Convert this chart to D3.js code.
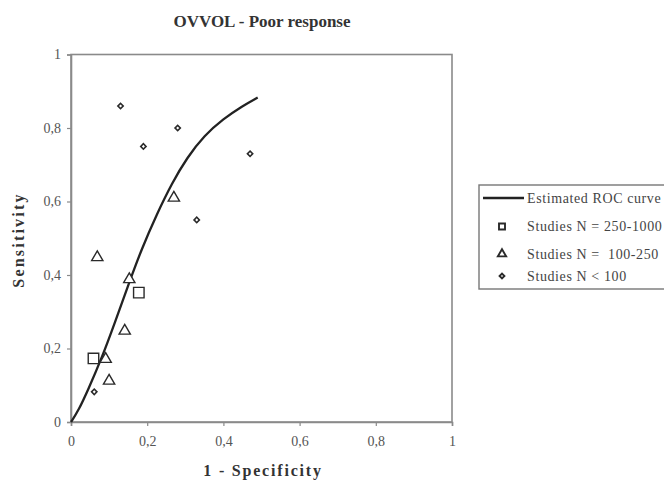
<!DOCTYPE html>
<html>
<head>
<meta charset="utf-8">
<script src="https://cdn.jsdelivr.net/npm/d3@7"></script>
<style>
  html, body { margin: 0; padding: 0; background: #fff; }
  svg { display: block; }
</style>
</head>
<body>
<svg id="chart" width="664" height="486"></svg>
<script>
// Summary ROC curve (1 - specificity, sensitivity)
const rocCurve = [
  [0, 0], [0.02, 0.032], [0.045, 0.088], [0.08, 0.172], [0.115, 0.27],
  [0.15, 0.372], [0.185, 0.47], [0.225, 0.565], [0.265, 0.65],
  [0.305, 0.72], [0.35, 0.78], [0.40, 0.825], [0.45, 0.86], [0.49, 0.883]
];
// Individual studies grouped by sample size
const studiesLarge = [[0.059, 0.173], [0.178, 0.352]];
const studiesMedium = [[0.069, 0.448], [0.153, 0.388], [0.141, 0.248], [0.091, 0.171], [0.10, 0.112], [0.27, 0.61]];
const studiesSmall = [[0.13, 0.86], [0.19, 0.75], [0.28, 0.80], [0.47, 0.73], [0.33, 0.55], [0.061, 0.082]];
const tickValues = [0, 0.2, 0.4, 0.6, 0.8, 1];
const legendLabels = ["Estimated ROC curve", "Studies N = 250-1000", "Studies N =  100-250", "Studies N < 100"];

const svg = d3.select("#chart");
const serif = "'Liberation Serif', 'Times New Roman', serif";
const ink = "#2a2a2a";

const x = d3.scaleLinear().domain([0, 1]).range([71, 452]);
const y = d3.scaleLinear().domain([0, 1]).range([422, 54.5]);
const fmt = d => d === 0 || d === 1 ? String(d) : d3.format(".1f")(d).replace(".", ",");

// Plot frame
svg.append("rect")
  .attr("x", x(0)).attr("y", y(1))
  .attr("width", x(1) - x(0)).attr("height", y(0) - y(1))
  .attr("fill", "#fff").attr("stroke", "#8a8a8a").attr("stroke-width", 1.6);

// Axes
const xAxis = svg.append("g").attr("transform", `translate(0,${y(0)})`)
  .call(d3.axisBottom(x).tickValues(tickValues).tickFormat(fmt).tickSize(4).tickPadding(10));
const yAxis = svg.append("g").attr("transform", `translate(${x(0)},0)`)
  .call(d3.axisLeft(y).tickValues(tickValues).tickFormat(fmt).tickSize(4).tickPadding(6));
[xAxis, yAxis].forEach(g => {
  g.select(".domain").attr("stroke", "#8a8a8a").attr("stroke-width", 1.6);
  g.selectAll(".tick line").attr("stroke", "#8a8a8a").attr("stroke-width", 1.2);
  g.selectAll(".tick text").attr("fill", "#555").attr("font-family", serif).attr("font-size", 14);
});

// Curve
const line = d3.line().x(d => x(d[0])).y(d => y(d[1])).curve(d3.curveBasis);
svg.append("path").datum(rocCurve)
  .attr("d", line).attr("fill", "none")
  .attr("stroke", "#222").attr("stroke-width", 2.3);

// Markers
const sym = (type, size) => d3.symbol().type(type).size(size)();
function drawPoints(data, type, size, sw, rot) {
  svg.append("g").selectAll("path").data(data).join("path")
    .attr("transform", d => `translate(${x(d[0])},${y(d[1])}) rotate(${rot || 0})`)
    .attr("d", sym(type, size))
    .attr("fill", "#fff").attr("stroke", ink).attr("stroke-width", sw);
}
drawPoints(studiesLarge, d3.symbolSquare, 110, 1.4);
drawPoints(studiesMedium, d3.symbolTriangle, 55, 1.4);
drawPoints(studiesSmall, d3.symbolSquare, 14, 1.6, 45);

// Titles
svg.append("text").attr("x", 262).attr("y", 27).attr("text-anchor", "middle")
  .attr("font-family", serif).attr("font-weight", "bold").attr("font-size", 17)
  .attr("fill", "#333").text("OVVOL - Poor response");
svg.append("text").attr("x", 263).attr("y", 476).attr("text-anchor", "middle")
  .attr("font-family", serif).attr("font-weight", "bold").attr("font-size", 16)
  .attr("letter-spacing", 1.8).attr("fill", "#333").text("1 - Specificity");
svg.append("text").attr("transform", "translate(24,240) rotate(-90)").attr("text-anchor", "middle")
  .attr("font-family", serif).attr("font-weight", "bold").attr("font-size", 16)
  .attr("letter-spacing", 2.2).attr("fill", "#333").text("Sensitivity");

// Legend
const legend = svg.append("g");
legend.append("rect").attr("x", 479).attr("y", 185).attr("width", 200).attr("height", 104)
  .attr("fill", "#fff").attr("stroke", "#777").attr("stroke-width", 1.4);
const rowsY = [198, 226.5, 254, 276];
legend.append("line").attr("x1", 483).attr("x2", 524).attr("y1", rowsY[0]).attr("y2", rowsY[0])
  .attr("stroke", "#222").attr("stroke-width", 2.3);
const legendSyms = [null, [d3.symbolSquare, 36, 0], [d3.symbolTriangle, 30, 0], [d3.symbolSquare, 12, 45]];
legendSyms.forEach((s, i) => {
  if (!s) return;
  legend.append("path").attr("transform", `translate(502,${rowsY[i]}) rotate(${s[2]})`)
    .attr("d", sym(s[0], s[1])).attr("fill", "#fff").attr("stroke", ink).attr("stroke-width", 1.9);
});
legend.selectAll("text.lab").data(legendLabels).join("text")
  .attr("class", "lab")
  .attr("x", 527).attr("y", (d, i) => rowsY[i]).attr("dy", "0.35em")
  .attr("font-family", serif).attr("font-size", 14).attr("letter-spacing", 0.6).attr("fill", "#444")
  .attr("xml:space", "preserve").style("white-space", "pre")
  .text(d => d);
</script>
</body>
</html>
